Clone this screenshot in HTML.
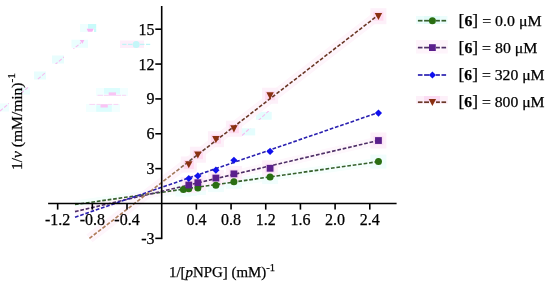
<!DOCTYPE html>
<html><head><meta charset="utf-8"><style>
html,body{margin:0;padding:0;background:#fff;}
svg{display:block;will-change:transform;}
text{font-family:"Liberation Serif",serif;fill:#000;stroke:#000;stroke-width:0.25px;}
.t{font-size:16.0px;}
.l{font-size:15.0px;}
.a{font-size:15.5px;}
.b{font-size:15.0px;}
</style></head><body>
<svg width="550" height="286" viewBox="0 0 550 286">
<rect x="80" y="24" width="8" height="8" fill="#effefe"/>
<rect x="88" y="24" width="8.2" height="4.8" fill="#c8fafa"/>
<rect x="94" y="28.7" width="2.2" height="3.3" fill="#c8fafa"/>
<rect x="71.5" y="39.7" width="16.5" height="8.1" fill="#ebfefe"/>
<rect x="52" y="55.5" width="12" height="8" fill="#e8fdfd"/>
<rect x="34" y="71.5" width="12" height="8" fill="#e8fdfd"/>
<rect x="18" y="87.5" width="12" height="7" fill="#eefefe"/>
<rect x="0" y="103.5" width="9" height="8" fill="#eefefe"/>
<rect x="120" y="40.5" width="24" height="7.5" fill="#fdeefa"/>
<rect x="96" y="88" width="32" height="8" fill="#f2ffff"/>
<rect x="104" y="88" width="16" height="5.8" fill="#dcfdfd"/>
<rect x="86" y="104" width="34" height="8" fill="#f2ffff"/>
<rect x="96.2" y="105.3" width="15.6" height="6.5" fill="#dcfdfd"/>
<clipPath id="gc"><rect x="0" y="103" width="9" height="9"/><rect x="19" y="86" width="10" height="9"/><rect x="33" y="71" width="13" height="9"/><rect x="51" y="55" width="13" height="9"/><rect x="69" y="39" width="12" height="10"/></clipPath>
<line x1="0" y1="111" x2="86" y2="38.5" stroke="#f7bdf0" stroke-width="1.1" stroke-dasharray="3.7 1.8" clip-path="url(#gc)"/>
<polygon points="79.7,40 84.3,40 82.5,43.8" fill="#f8b8f2"/>
<polygon points="86.7,28.7 93.7,28.7 92.3,31.8 88,31.8" fill="#f8b4f2"/>
<line x1="122.2" y1="44.4" x2="126.5" y2="44.4" stroke="#c0f4f6" stroke-width="1.3"/>
<line x1="128" y1="44.4" x2="132.5" y2="44.4" stroke="#c0f4f6" stroke-width="1.3"/>
<line x1="140" y1="44.4" x2="144.5" y2="44.4" stroke="#c0f4f6" stroke-width="1.3"/>
<line x1="146" y1="44.4" x2="150.2" y2="44.4" stroke="#c0f4f6" stroke-width="1.3"/>
<circle cx="136.2" cy="44.4" r="3.5" fill="#c4f6f8"/>
<line x1="97.5" y1="95.3" x2="103" y2="95.3" stroke="#fad4f6" stroke-width="1.0"/>
<line x1="104" y1="95.3" x2="108.7" y2="95.3" stroke="#fad4f6" stroke-width="1.0"/>
<line x1="116" y1="95.3" x2="121" y2="95.3" stroke="#fad4f6" stroke-width="1.0"/>
<line x1="122" y1="95.3" x2="126.2" y2="95.3" stroke="#fad4f6" stroke-width="1.0"/>
<rect x="108.7" y="92.4" width="7.3" height="3.2" fill="#f9c4f4"/>
<line x1="89.3" y1="104.4" x2="95" y2="104.4" stroke="#fad4f6" stroke-width="1.0"/>
<line x1="96.5" y1="104.4" x2="100.5" y2="104.4" stroke="#fad4f6" stroke-width="1.0"/>
<line x1="108" y1="104.4" x2="112" y2="104.4" stroke="#fad4f6" stroke-width="1.0"/>
<line x1="113.5" y1="104.4" x2="118.4" y2="104.4" stroke="#fad4f6" stroke-width="1.0"/>
<rect x="100.5" y="104.2" width="7.3" height="3.3" fill="#f9c4f4"/>
<rect x="240.2" y="128.3" width="15" height="7.1" fill="#e4fdfd"/>
<rect x="256" y="111.8" width="15.7" height="7.9" fill="#e4fdfd"/>
<clipPath id="gc2"><rect x="240" y="128" width="13" height="8"/><rect x="257" y="111" width="14" height="9"/></clipPath>
<line x1="238" y1="139.2" x2="274" y2="106.1" stroke="#f7bdf0" stroke-width="1.1" stroke-dasharray="3.7 1.8" clip-path="url(#gc2)"/>
<line x1="75.00" y1="204.51" x2="378.45" y2="161.60" stroke="#f5fefc" stroke-width="8"/>
<line x1="75.00" y1="211.62" x2="378.45" y2="140.49" stroke="#fef7fc" stroke-width="8"/>
<line x1="89.43" y1="238.36" x2="378.45" y2="14.97" stroke="#fef5fb" stroke-width="10"/>
<rect x="175.4" y="182.6" width="16" height="14" fill="#f0fdfc"/>
<rect x="180.8" y="181.9" width="16" height="14" fill="#f0fdfc"/>
<rect x="189.9" y="180.9" width="16" height="14" fill="#f0fdfc"/>
<rect x="207.9" y="178.1" width="16" height="14" fill="#f0fdfc"/>
<rect x="225.9" y="174.7" width="16" height="14" fill="#f0fdfc"/>
<rect x="262.1" y="170.1" width="16" height="14" fill="#f0fdfc"/>
<rect x="370.4" y="154.6" width="16" height="14" fill="#f0fdfc"/>
<rect x="180.8" y="177.0" width="16" height="16" fill="#fdf0f9"/>
<rect x="189.9" y="174.7" width="16" height="16" fill="#fdf0f9"/>
<rect x="207.9" y="170.1" width="16" height="16" fill="#fdf0f9"/>
<rect x="225.9" y="165.9" width="16" height="16" fill="#fdf0f9"/>
<rect x="262.1" y="160.3" width="16" height="16" fill="#fdf0f9"/>
<rect x="370.4" y="132.5" width="16" height="16" fill="#fdf0f9"/>
<rect x="180.8" y="156.5" width="16" height="16" fill="#fdf0f9"/>
<rect x="189.9" y="146.7" width="16" height="16" fill="#fdf0f9"/>
<rect x="207.9" y="131.2" width="16" height="16" fill="#fdf0f9"/>
<rect x="225.9" y="120.7" width="16" height="16" fill="#fdf0f9"/>
<rect x="262.1" y="87.7" width="16" height="16" fill="#fdf0f9"/>
<rect x="370.4" y="8.2" width="16" height="16" fill="#fdf0f9"/>
<rect x="183.8" y="180.5" width="10" height="9" fill="#fbe2f6"/>
<rect x="192.9" y="178.2" width="10" height="9" fill="#fbe2f6"/>
<rect x="210.9" y="173.6" width="10" height="9" fill="#fbe2f6"/>
<rect x="228.9" y="169.4" width="10" height="9" fill="#fbe2f6"/>
<rect x="265.1" y="163.8" width="10" height="9" fill="#fbe2f6"/>
<rect x="373.4" y="136.0" width="10" height="9" fill="#fbe2f6"/>
<rect x="183.8" y="160.0" width="10" height="9" fill="#ffdaf0"/>
<rect x="192.9" y="150.2" width="10" height="9" fill="#ffdaf0"/>
<rect x="210.9" y="134.7" width="10" height="9" fill="#ffdaf0"/>
<rect x="228.9" y="124.2" width="10" height="9" fill="#ffdaf0"/>
<rect x="265.1" y="91.2" width="10" height="9" fill="#ffdaf0"/>
<rect x="373.4" y="11.7" width="10" height="9" fill="#ffdaf0"/>
<line x1="75.00" y1="204.51" x2="378.45" y2="161.60" stroke="#36602c" stroke-width="1.6" stroke-dasharray="3.7 1.8"/>
<line x1="75.00" y1="211.62" x2="378.45" y2="140.49" stroke="#4e2f66" stroke-width="1.6" stroke-dasharray="3.7 1.8"/>
<line x1="75.00" y1="217.21" x2="378.45" y2="112.53" stroke="#2a20b0" stroke-width="1.6" stroke-dasharray="3.7 1.8"/>
<linearGradient id="rg" gradientUnits="userSpaceOnUse" x1="89.43" y1="238.36" x2="378.45" y2="14.97"><stop offset="0" stop-color="#b07c58"/><stop offset="0.30" stop-color="#a07858"/><stop offset="0.36" stop-color="#5e4438"/><stop offset="0.45" stop-color="#6a3827"/><stop offset="1" stop-color="#6a3827"/></linearGradient>
<line x1="89.43" y1="238.36" x2="378.45" y2="14.97" stroke="url(#rg)" stroke-width="1.6" stroke-dasharray="3.7 1.8"/>
<line x1="48.12" y1="203.50" x2="396.6" y2="203.50" stroke="#000" stroke-width="1.6"/>
<line x1="161.7" y1="6" x2="161.7" y2="239.16" stroke="#000" stroke-width="1.6"/>
<line x1="155.3" y1="29.20" x2="161.7" y2="29.20" stroke="#000" stroke-width="1.6"/>
<text class="t" x="154.5" y="34.70" text-anchor="end">15</text>
<line x1="155.3" y1="64.06" x2="161.7" y2="64.06" stroke="#000" stroke-width="1.6"/>
<text class="t" x="154.5" y="69.56" text-anchor="end">12</text>
<line x1="155.3" y1="98.92" x2="161.7" y2="98.92" stroke="#000" stroke-width="1.6"/>
<text class="t" x="154.5" y="104.42" text-anchor="end">9</text>
<line x1="155.3" y1="133.78" x2="161.7" y2="133.78" stroke="#000" stroke-width="1.6"/>
<text class="t" x="154.5" y="139.28" text-anchor="end">6</text>
<line x1="155.3" y1="168.64" x2="161.7" y2="168.64" stroke="#000" stroke-width="1.6"/>
<text class="t" x="154.5" y="174.14" text-anchor="end">3</text>
<line x1="155.3" y1="238.36" x2="161.7" y2="238.36" stroke="#000" stroke-width="1.6"/>
<text class="t" x="154.5" y="243.86" text-anchor="end">-3</text>
<line x1="57.66" y1="203.5" x2="57.66" y2="209.6" stroke="#000" stroke-width="1.6"/>
<text class="t" x="57.66" y="225.2" text-anchor="middle">-1.2</text>
<line x1="92.34" y1="203.5" x2="92.34" y2="209.6" stroke="#000" stroke-width="1.6"/>
<text class="t" x="92.34" y="225.2" text-anchor="middle">-0.8</text>
<line x1="127.02" y1="203.5" x2="127.02" y2="209.6" stroke="#000" stroke-width="1.6"/>
<text class="t" x="127.02" y="225.2" text-anchor="middle">-0.4</text>
<line x1="196.38" y1="203.5" x2="196.38" y2="209.6" stroke="#000" stroke-width="1.6"/>
<text class="t" x="196.38" y="225.2" text-anchor="middle">0.4</text>
<line x1="231.06" y1="203.5" x2="231.06" y2="209.6" stroke="#000" stroke-width="1.6"/>
<text class="t" x="231.06" y="225.2" text-anchor="middle">0.8</text>
<line x1="265.74" y1="203.5" x2="265.74" y2="209.6" stroke="#000" stroke-width="1.6"/>
<text class="t" x="265.74" y="225.2" text-anchor="middle">1.2</text>
<line x1="300.42" y1="203.5" x2="300.42" y2="209.6" stroke="#000" stroke-width="1.6"/>
<text class="t" x="300.42" y="225.2" text-anchor="middle">1.6</text>
<line x1="335.10" y1="203.5" x2="335.10" y2="209.6" stroke="#000" stroke-width="1.6"/>
<text class="t" x="335.10" y="225.2" text-anchor="middle">2.0</text>
<line x1="369.78" y1="203.5" x2="369.78" y2="209.6" stroke="#000" stroke-width="1.6"/>
<text class="t" x="369.78" y="225.2" text-anchor="middle">2.4</text>
<circle cx="183.38" cy="189.56" r="3.5" fill="#2a6e12"/>
<circle cx="188.79" cy="188.86" r="3.5" fill="#2a6e12"/>
<circle cx="197.85" cy="187.93" r="3.5" fill="#2a6e12"/>
<circle cx="215.89" cy="185.14" r="3.5" fill="#2a6e12"/>
<circle cx="233.92" cy="181.65" r="3.5" fill="#2a6e12"/>
<circle cx="270.07" cy="177.12" r="3.5" fill="#2a6e12"/>
<circle cx="378.45" cy="161.55" r="3.5" fill="#2a6e12"/>
<rect x="185.39" y="181.62" width="6.8" height="6.8" fill="#5a1f8c"/>
<rect x="194.45" y="179.30" width="6.8" height="6.8" fill="#5a1f8c"/>
<rect x="212.49" y="174.65" width="6.8" height="6.8" fill="#5a1f8c"/>
<rect x="230.52" y="170.47" width="6.8" height="6.8" fill="#5a1f8c"/>
<rect x="266.68" y="164.89" width="6.8" height="6.8" fill="#5a1f8c"/>
<rect x="375.05" y="137.12" width="6.8" height="6.8" fill="#5a1f8c"/>
<polygon points="188.79,174.92 192.39,178.52 188.79,182.12 185.19,178.52" fill="#1010ee"/>
<polygon points="197.85,172.36 201.45,175.96 197.85,179.56 194.25,175.96" fill="#1010ee"/>
<polygon points="215.89,166.55 219.49,170.15 215.89,173.75 212.29,170.15" fill="#1010ee"/>
<polygon points="233.92,156.67 237.52,160.27 233.92,163.87 230.32,160.27" fill="#1010ee"/>
<polygon points="270.07,147.84 273.68,151.44 270.07,155.04 266.47,151.44" fill="#1010ee"/>
<polygon points="378.45,109.50 382.05,113.10 378.45,116.70 374.85,113.10" fill="#1010ee"/>
<polygon points="185.09,161.16 192.49,161.16 188.79,168.36" fill="#8a3010"/>
<polygon points="194.15,151.40 201.55,151.40 197.85,158.60" fill="#8a3010"/>
<polygon points="212.19,135.94 219.59,135.94 215.89,143.14" fill="#8a3010"/>
<polygon points="230.22,125.37 237.62,125.37 233.92,132.57" fill="#8a3010"/>
<polygon points="266.38,92.37 273.77,92.37 270.07,99.57" fill="#8a3010"/>
<polygon points="374.75,12.89 382.15,12.89 378.45,20.09" fill="#8a3010"/>
<rect x="416" y="16" width="31.4" height="8" fill="#ecfdfc"/>
<rect x="424" y="16" width="16" height="8" fill="#e2fbf8"/>
<rect x="416" y="40" width="31.8" height="13.5" fill="#fef4fb"/>
<rect x="416" y="96" width="31.8" height="8" fill="#fdf0f9"/>
<rect x="424" y="96" width="16" height="6" fill="#fbdcf3"/>
<line x1="417.9" y1="20.7" x2="422.5" y2="20.7" stroke="#36602c" stroke-width="1.7"/>
<line x1="424.1" y1="20.7" x2="429" y2="20.7" stroke="#36602c" stroke-width="1.7"/>
<line x1="436" y1="20.7" x2="439.9" y2="20.7" stroke="#36602c" stroke-width="1.7"/>
<line x1="441.5" y1="20.7" x2="446.1" y2="20.7" stroke="#36602c" stroke-width="1.7"/>
<circle cx="432.40" cy="20.70" r="3.5" fill="#2a6e12"/>
<text class="l" x="458.6" y="25.90" textLength="83.0" lengthAdjust="spacingAndGlyphs"><tspan font-size="16.5">[</tspan><tspan font-weight="bold">6</tspan><tspan font-size="16.5">]</tspan> = 0.0 μM</text>
<line x1="417.9" y1="47.6" x2="422.5" y2="47.6" stroke="#4e2f66" stroke-width="1.7"/>
<line x1="424.1" y1="47.6" x2="429" y2="47.6" stroke="#4e2f66" stroke-width="1.7"/>
<line x1="436" y1="47.6" x2="439.9" y2="47.6" stroke="#4e2f66" stroke-width="1.7"/>
<line x1="441.5" y1="47.6" x2="446.1" y2="47.6" stroke="#4e2f66" stroke-width="1.7"/>
<rect x="429.00" y="44.20" width="6.8" height="6.8" fill="#5a1f8c"/>
<text class="l" x="458.6" y="52.80" textLength="78.8" lengthAdjust="spacingAndGlyphs"><tspan font-size="16.5">[</tspan><tspan font-weight="bold">6</tspan><tspan font-size="16.5">]</tspan> = 80 μM</text>
<line x1="417.9" y1="75.0" x2="422.5" y2="75.0" stroke="#2a20b0" stroke-width="1.7"/>
<line x1="424.1" y1="75.0" x2="429" y2="75.0" stroke="#2a20b0" stroke-width="1.7"/>
<line x1="436" y1="75.0" x2="439.9" y2="75.0" stroke="#2a20b0" stroke-width="1.7"/>
<line x1="441.5" y1="75.0" x2="446.1" y2="75.0" stroke="#2a20b0" stroke-width="1.7"/>
<polygon points="432.40,71.40 436.00,75.00 432.40,78.60 428.80,75.00" fill="#1010ee"/>
<text class="l" x="458.6" y="80.20" textLength="86.0" lengthAdjust="spacingAndGlyphs"><tspan font-size="16.5">[</tspan><tspan font-weight="bold">6</tspan><tspan font-size="16.5">]</tspan> = 320 μM</text>
<line x1="417.9" y1="102.2" x2="422.5" y2="102.2" stroke="#6a3827" stroke-width="1.7"/>
<line x1="424.1" y1="102.2" x2="429" y2="102.2" stroke="#6a3827" stroke-width="1.7"/>
<line x1="436" y1="102.2" x2="439.9" y2="102.2" stroke="#6a3827" stroke-width="1.7"/>
<line x1="441.5" y1="102.2" x2="446.1" y2="102.2" stroke="#6a3827" stroke-width="1.7"/>
<polygon points="428.70,98.90 436.10,98.90 432.40,106.10" fill="#8a3010"/>
<text class="l" x="458.6" y="107.40" textLength="86.0" lengthAdjust="spacingAndGlyphs"><tspan font-size="16.5">[</tspan><tspan font-weight="bold">6</tspan><tspan font-size="16.5">]</tspan> = 800 μM</text>
<text class="a" x="169.0" y="277.3" textLength="106.0" lengthAdjust="spacingAndGlyphs">1/[<tspan font-style="italic">p</tspan>NPG] (mM)<tspan dy="-6.3" font-size="11">-1</tspan></text>
<text class="b" transform="translate(21.5,170.0) rotate(-90)" textLength="97.0" lengthAdjust="spacingAndGlyphs">1/<tspan font-style="italic">v</tspan> (mM/min)<tspan dy="-6.7" font-size="11">-1</tspan></text>
</svg>
</body></html>
